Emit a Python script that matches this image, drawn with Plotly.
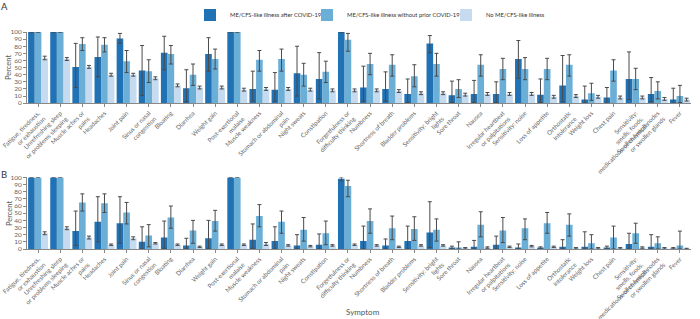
import plotly.graph_objects as go

categories = [
    "Fatigue, tiredness,<br>or exhaustion", "Unrefreshing sleep<br>or problems sleeping",
    "Muscle aches or<br>pains", "Headaches", "Joint pain", "Sinus or nasal<br>congestion",
    "Bloating", "Diarrhea", "Weight gain", "Post-exertional<br>malaise", "Muscle weakness",
    "Stomach or abdominal<br>pain", "Night sweats", "Constipation",
    "Forgetfulness or<br>difficulty thinking", "Numbness", "Shortness of breath",
    "Bladder problems", "Sensitivity: bright<br>lights", "Sore throat", "Nausea",
    "Irregular heartbeat<br>or palpitations", "Sensitivity: noise", "Loss of appetite",
    "Orthostatic<br>intolerance", "Weight loss", "Chest pain",
    "Sensitivity:<br>smells, foods,<br>medications, or chemicals",
    "Swollen lymph nodes<br>or swollen glands", "Fever",
]
series_names = ["ME/CFS-like illness after COVID-19",
                "ME/CFS-like illness without prior COVID-19",
                "No ME/CFS-like illness"]

# Panel A
a_after = [100,100,51,65,91,46,71,21,69,100,20,19,42,34,100,22,20,13,84,11,13,13,62,12,25,5,8,34,13,5]
a_after_hi = [100,100,84,93,98,81,94,47,92,100,45,43,80,71,100,52,44,34,95,31,32,30,88,34,67,24,22,72,36,21]
a_after_lo = [100,100,22,37,84,11,47,2,45,100,3,3,10,6,100,3,3,1,71,1,1,1,35,1,2,0,0,5,2,0]
a_mid = [100,100,83,82,59,45,69,40,62,100,61,62,40,44,89,55,54,38,55,20,54,48,48,48,54,14,46,34,17,10]
a_mid_hi = [100,100,92,92,74,61,81,55,76,100,74,76,56,59,98,70,68,54,70,33,68,63,64,63,68,28,61,49,30,25]
a_mid_lo = [100,100,74,72,43,29,55,25,48,100,45,45,24,29,73,40,38,23,38,8,38,33,33,33,38,4,31,19,6,1]
a_light = [63,62,51,40,40,35,25,22,22,19,20,20,19,18,18,18,17,14,14,12,13,13,13,9,10,9,8,8,6,5]
a_light_hi = [66,64,53,42,42,37,27,24,24,21,22,22,21,20,20,20,19,16,16,14,15,15,15,11,12,11,10,10,8,7]
a_light_lo = [61,60,49,38,38,33,23,20,20,17,18,18,17,16,16,16,15,12,12,10,11,11,11,7,8,7,6,6,4,3]

# Panel B
b_after = [100,100,25,38,36,10,16,5,15,100,13,11,5,6,98,11,5,11,23,1,3,6,2,1,3,3,1,7,3,0.5]
b_after_hi = [100,100,53,73,73,31,39,15,40,100,35,31,20,21,100,32,14,32,66,4,12,18,7,3,13,24,4,22,20,2]
b_after_lo = [100,100,5,10,8,0,1,0,1,100,1,0,0,0,95,0,0,0,2,0,0,0,0,0,0,0,0,0,0,0]
b_mid = [100,100,65,64,51,19,44,26,39,100,46,38,27,22,88,39,29,28,27,2,34,26,29,36,34,8,16,22,8,5]
b_mid_hi = [100,100,77,77,65,34,60,40,54,100,62,53,44,39,96,56,46,45,42,10,52,44,42,51,49,20,32,36,17,25]
b_mid_lo = [100,100,53,51,35,3,29,8,25,100,31,22,11,6,73,22,13,12,11,0,17,9,13,22,18,0,0,8,0,0]
b_light = [22,29,16,6,15,8,6,3,6,6,7,5,4,5,6,5,3,5,5,1,2,3,4,3,1,1,1,2,1,0.5]
b_light_hi = [24,31,18,7,17,9,7,4,7,7,9,6,5,6,7,6,4,6,6,2,3,4,5,4,2,2,2,3,2,1]
b_light_lo = [20,27,14,5,13,7,5,2,5,5,5,4,3,4,5,4,2,4,4,0,1,2,3,2,0,0,0,1,0,0]

colors = ["#2171b5", "#6baed6", "#c6dbef"]
FONT = "Lato, Open Sans, DejaVu Sans, sans-serif"
TXT = "#555555"
legend_ids = ["legend", "legend2", "legend3"]


def errs(v, hi, lo):
    plus, minus = [], []
    for a, h, l in zip(v, hi, lo):
        if h == a and l == a:
            plus.append(None); minus.append(None)
        else:
            plus.append(h - a); minus.append(a - l)
    return plus, minus


fig = go.Figure()
panels = [
    ("x", "y", [(a_after, a_after_hi, a_after_lo), (a_mid, a_mid_hi, a_mid_lo), (a_light, a_light_hi, a_light_lo)]),
    ("x2", "y2", [(b_after, b_after_hi, b_after_lo), (b_mid, b_mid_hi, b_mid_lo), (b_light, b_light_hi, b_light_lo)]),
]
for pi, (xa, ya, series) in enumerate(panels):
    for si, (v, hi, lo) in enumerate(series):
        p, m = errs(v, hi, lo)
        fig.add_trace(go.Bar(
            x=categories, y=v, name=series_names[si], xaxis=xa, yaxis=ya,
            marker=dict(color=colors[si], line=dict(width=0)),
            error_y=dict(type="data", symmetric=False, array=p, arrayminus=m,
                         color="#4a4a4a", thickness=1, width=2),
            showlegend=(pi == 0), legendgroup=str(si), legend=legend_ids[si],
        ))

W, H, L, R, T, B = 700, 319, 27, 9, 32, 70
pw, ph = W - L - R, H - T - B

axis_common = dict(showline=True, linecolor="#888888", linewidth=1, ticks="outside",
                   ticklen=3, tickcolor="#888888", showgrid=False, zeroline=False,
                   automargin=False)
xfont = dict(size=6.2, color="#666666", family=FONT)
yfont = dict(size=6.5, color="#666666", family=FONT)


def leg(xpx):
    return dict(orientation="h", xref="container", yref="container",
                x=xpx / W, xanchor="left", y=1 - 15 / H, yanchor="middle",
                font=dict(size=5.8, color="#333333", family=FONT), bgcolor="rgba(0,0,0,0)",
                itemwidth=30)


fig.update_layout(
    width=W, height=H,
    margin=dict(l=L, r=R, t=T, b=B, autoexpand=False),
    paper_bgcolor="white", plot_bgcolor="white",
    barmode="group", bargap=0.1, bargroupgap=0,
    font=dict(family=FONT, color=TXT),
    xaxis=dict(domain=[0, 1], anchor="y", tickangle=-45, tickfont=xfont, **axis_common),
    yaxis=dict(domain=[0.672, 1], anchor="x", range=[0, 100], dtick=10, tickfont=yfont, **axis_common),
    xaxis2=dict(domain=[0, 1], anchor="y2", tickangle=-45, tickfont=xfont, **axis_common),
    yaxis2=dict(domain=[0, 0.33], anchor="x2", range=[0, 100], dtick=10, tickfont=yfont, **axis_common),
    legend=leg(190), legend2=leg(307), legend3=leg(446),
)

ann_specs = [
    ("A", 4, 7, 9.5, "#333333", 0),
    ("B", 4, 175, 9.5, "#333333", 0),
    ("Percent", 9, 68, 7.5, TXT, -90),
    ("Percent", 9, 214, 7.5, TXT, -90),
    ("Symptom", 363, 312, 8, TXT, 0),
]
fig.update_layout(annotations=[
    dict(text=t, x=(px - L) / pw, y=(H - B - py) / ph, xref="paper", yref="paper",
         showarrow=False, textangle=ang, xanchor="center", yanchor="middle",
         font=dict(size=s, color=c, family=FONT))
    for t, px, py, s, c, ang in ann_specs
])
fig.write_html("out.html", config={"displayModeBar": False},
               post_script="document.body.style.margin='0';document.body.style.padding='0';")
